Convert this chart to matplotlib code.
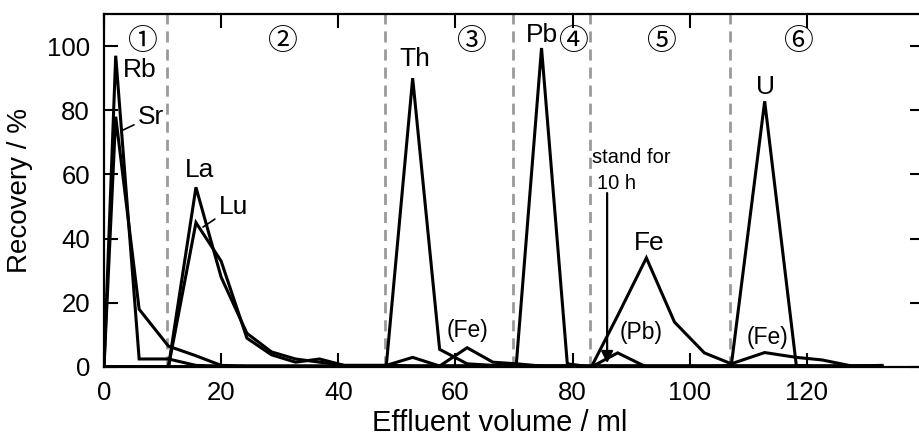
import numpy as np
import matplotlib
matplotlib.use("Agg")
import matplotlib.pyplot as plt

plt.rcParams['font.family'] = ['Liberation Sans', 'Noto Sans CJK JP', 'DejaVu Sans']

# Effluent volume (ml) of each collected fraction
volume = [0, 2, 6, 11, 15.7, 20, 24.4, 28.6, 32.7, 36.8, 41, 48.2, 52.7, 57.3, 62,
          66.4, 70.4, 74.7, 79.1, 83.2, 87.7, 92.6, 97.4, 102.5, 107.1, 112.8,
          118.2, 122.6, 127.7, 132.8]

# Recovery (%) per element
rb = [0, 97, 2.5, 2.5, 0.5, 0.3, 0.3, 0.3, 0.3, 0.3, 0.3, 0.3, 0.3, 0.3, 0.3,
      0.3, 0.3, 0.3, 0.3, 0.3, 0.3, 0.3, 0.3, 0.3, 0.3, 0.3, 0.3, 0.3, 0.3, 0.3]
sr = [0, 78, 18, 6.5, 3.5, 0.5, 0.3, 0.3, 0.3, 0.3, 0.3, 0.3, 0.3, 0.3, 0.3,
      0.3, 0.3, 0.3, 0.3, 0.3, 0.3, 0.3, 0.3, 0.3, 0.3, 0.3, 0.3, 0.3, 0.3, 0.3]
la = [0, 0, 0, 0, 56, 28, 10.5, 4.7, 2.5, 1.5, 0.5, 0.5, 0.2, 0.2, 0.2,
      0.2, 0.2, 0.2, 0.2, 0.2, 0.2, 0.2, 0.2, 0.2, 0.2, 0.2, 0.2, 0.2, 0.2, 0.2]
lu = [0, 0, 0, 0, 45, 33, 9, 3.8, 1.5, 2.5, 0.5, 0.5, 0.2, 0.2, 0.2,
      0.2, 0.2, 0.2, 0.2, 0.2, 0.2, 0.2, 0.2, 0.2, 0.2, 0.2, 0.2, 0.2, 0.2, 0.2]
th = [0, 0, 0, 0, 0, 0, 0, 0, 0, 0, 0, 0.5, 90, 5.5, 1,
      0.5, 0.5, 0.2, 0.2, 0.2, 0.2, 0.2, 0.2, 0.2, 0.2, 0.2, 0.2, 0.2, 0.2, 0.2]
pb = [0, 0, 0, 0, 0, 0, 0, 0, 0, 0, 0, 0, 0, 0, 0,
      0, 1, 99.4, 1, 0, 4.4, 0, 0, 0, 0, 0, 0, 0, 0, 0]
fe = [0, 0, 0, 0, 0, 0, 0, 0, 0, 0, 0, 0.5, 3, 0.3, 6,
      1.5, 1, 0.3, 0.3, 0, 16, 34, 14, 4.4, 1, 4.5, 3, 2.2, 0.3, 0.5]
u = [0, 0, 0, 0, 0, 0, 0, 0, 0, 0, 0, 0, 0, 0, 0,
     0, 0, 0, 0, 0, 0, 0, 0, 0, 0.5, 82.8, 0.5, 0, 0, 0]

# boundaries between elution steps
steps = [10.7, 47.9, 69.9, 82.9, 106.9]
step_names = ['①', '②', '③', '④', '⑤', '⑥']
step_x = [6.6, 30.5, 62.9, 80.3, 95.3, 118.7]
stand_at = 85.9

fig = plt.figure(figsize=(9.19, 4.41), dpi=100)
ax = fig.add_axes([104 / 919, 74 / 441, 820 / 919, 353 / 441])

for s in steps:
    ax.axvline(s, color='#9a9a9a', lw=2.0, ls=(0, (4, 2.5)), zorder=1)

for series in [rb, sr, la, lu, th, pb, fe, u]:
    ax.plot(volume, series, color='black', lw=2.2, solid_joinstyle='miter', zorder=3)

ax.set_xlim(0, 140)
ax.set_ylim(0, 110)
ax.set_xticks([0, 20, 40, 60, 80, 100, 120])
ax.set_yticks([0, 20, 40, 60, 80, 100])
ax.tick_params(direction='in', length=10, width=1.5, labelsize=18.5,
               top=True, right=True)
ax.tick_params(axis='y', pad=10)
ax.tick_params(axis='x', pad=10)
for sp in ax.spines.values():
    sp.set_linewidth(1.6)

ax.set_xlabel('Effluent volume / ml', fontsize=21)
ax.xaxis.set_label_coords(0.483, -0.118)
ax.set_ylabel('Recovery / %', fontsize=20, labelpad=10)

for name, x in zip(step_names, step_x):
    ax.text(x, 101.3, name, fontsize=21.5, ha='center', va='center')

lab = dict(fontsize=19, ha='center', va='center')
ax.text(6.1, 92.6, 'Rb', **lab)
ax.annotate('Sr', xy=(3.2, 73.8), xytext=(5.8, 78), fontsize=19, ha='left', va='center',
            arrowprops=dict(arrowstyle='-', lw=1.2, color='black', shrinkA=1, shrinkB=0))
ax.text(16.4, 61.4, 'La', **lab)
ax.annotate('Lu', xy=(16.9, 43.6), xytext=(19.6, 50), fontsize=19, ha='left', va='center',
            arrowprops=dict(arrowstyle='-', lw=1.2, color='black', shrinkA=1, shrinkB=0))
ax.text(53, 96, 'Th', **lab)
ax.text(74.7, 103.4, 'Pb', **lab)
ax.text(112.9, 87.2, 'U', **lab)
ax.text(93.1, 38.6, 'Fe', **lab)

small = dict(fontsize=16.5, ha='center', va='center')
ax.text(91.7, 10.6, '(Pb)', **small)
ax.text(62.1, 11.5, '(Fe)', **small)
ax.text(113.2, 9.3, '(Fe)', **small)

ax.text(83.4, 65.4, 'stand for', fontsize=14.5, ha='left', va='center')
ax.text(84.2, 57.3, '10 h', fontsize=14.5, ha='left', va='center')
ax.annotate('', xy=(stand_at, 1.2), xytext=(stand_at, 54.2),
            arrowprops=dict(arrowstyle='-|>,head_length=0.7,head_width=0.35',
                            lw=1.6, color='black', shrinkA=0, shrinkB=0))

fig.savefig('out.png', dpi=100)
